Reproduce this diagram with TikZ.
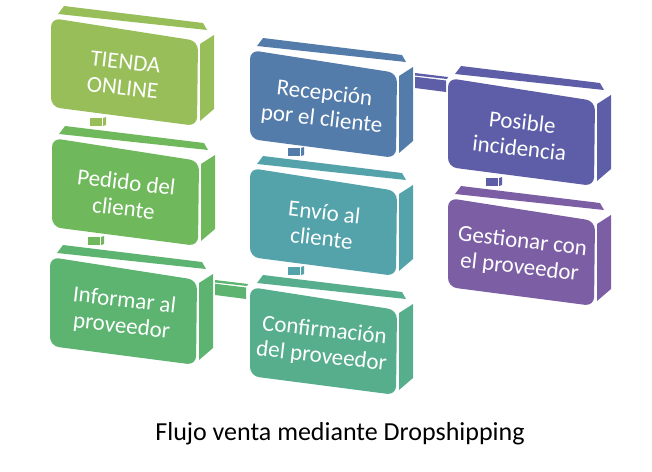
\documentclass[tikz,border=0pt]{standalone}
\usepackage{fontspec}
\setmainfont{Carlito}
\definecolor{cA}{RGB}{152,190,90}
\definecolor{cB}{RGB}{112,184,92}
\definecolor{cC}{RGB}{92,180,112}
\definecolor{cD}{RGB}{86,174,140}
\definecolor{cE}{RGB}{84,162,170}
\definecolor{cF}{RGB}{84,124,170}
\definecolor{cG}{RGB}{94,94,168}
\definecolor{cH}{RGB}{124,94,164}
\tikzset{
  boxtext/.style={text=white, align=center, font=\fontsize{23}{26}\selectfont, rotate=-6.5, inner sep=0pt},
  titletext/.style={text=black, font=\fontsize{26}{30}\selectfont, inner sep=0pt, anchor=base},
}
\newcommand{\cubebox}[5]{%
  \coordinate (#1-o) at (#2,#3);
  \begin{scope}[shift={(#1-o)}]
    \fill[#4] (13,-12) -- (152,5) -- (156,12) -- (7,-4) -- cycle;
    \fill[#4] (149,26) -- (163,17) -- (163,91) -- (149,103) -- cycle;
    \fill[#4, rounded corners=9pt] (0,0) -- (147,23) -- (146,108) -- (0,89) -- cycle;
    \node[boxtext] (#1) at (73,57) {#5};
  \end{scope}}
\newcommand{\vlink}[2]{%
  \begin{scope}[shift={(#1-o)}]
    \fill[#2] (38,-20) rectangle (50,-12);
    \fill[#2] (51,-20) -- (54,-21) -- (54,-13) -- (51,-12) -- cycle;
  \end{scope}}
\newcommand{\hlink}[2]{%
  \begin{scope}[shift={(#1-o)}]
    \fill[#2] (165,23) -- (198,27) -- (197,29) -- (165,25.5) -- cycle;
    \fill[#2] (165,26.7) -- (196,30.5) -- (196,42) -- (165,38) -- cycle;
  \end{scope}}
\begin{document}
\begin{tikzpicture}[x=1pt, y=-1pt]
  \useasboundingbox (0,0) rectangle (652,471);
  \cubebox{tienda}{51}{18}{cA}{TIENDA\\ONLINE}
  \cubebox{pedido}{52}{138}{cB}{Pedido del\\cliente}
  \cubebox{informar}{50}{257}{cC}{Informar al\\proveedor}
  \cubebox{recepcion}{250}{50}{cF}{Recepción\\por el cliente}
  \cubebox{envio}{250}{168}{cE}{Envío al\\cliente}
  \cubebox{confirmacion}{250}{287}{cD}{Confirmación\\del proveedor}
  \cubebox{posible}{448}{78}{cG}{Posible\\incidencia}
  \cubebox{gestionar}{448}{198}{cH}{Gestionar con\\el proveedor}
  \vlink{pedido}{cA}
  \vlink{informar}{cB}
  \vlink{envio}{cF}
  \vlink{confirmacion}{cE}
  \vlink{gestionar}{cG}
  \hlink{informar}{cC}
  \hlink{recepcion}{cG}
  \node[titletext] (title) at (340,440) {Flujo venta mediante Dropshipping};
\end{tikzpicture}
\end{document}
